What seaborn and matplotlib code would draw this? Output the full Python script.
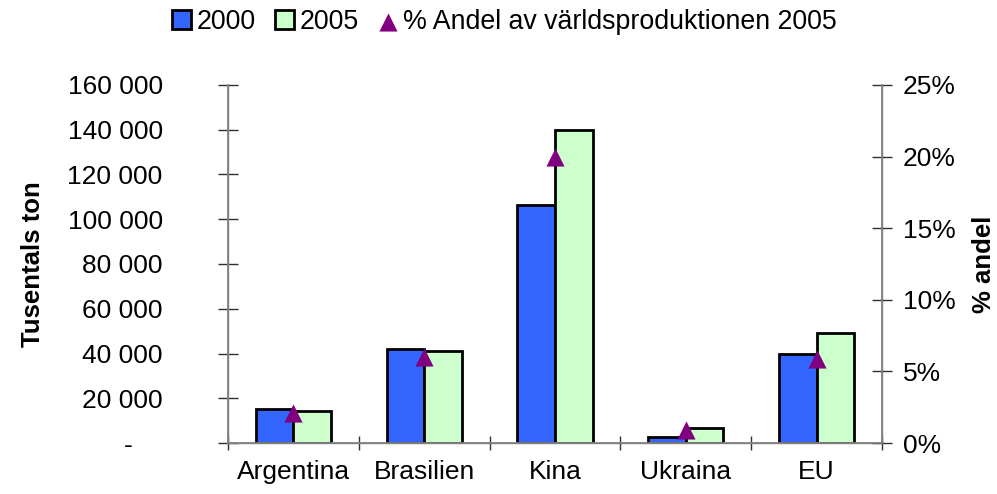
import numpy as np
import pandas as pd
import matplotlib
matplotlib.use("Agg")
import matplotlib.pyplot as plt
import seaborn as sns
from matplotlib.ticker import FuncFormatter, MultipleLocator

categories = ["Argentina", "Brasilien", "Kina", "Ukraina", "EU"]
prod_2000 = [15200, 42000, 106300, 2700, 39800]
prod_2005 = [14400, 41200, 139800, 6800, 49300]
share_2005 = [2.1, 6.0, 20.0, 0.9, 5.9]
series_labels = ["2000", "2005"]
share_label = "% Andel av världsproduktionen 2005"

sns.set_theme(style="white")
plt.rcParams["font.family"] = ["Liberation Sans", "DejaVu Sans"]
for k in ["text.color", "axes.labelcolor", "xtick.labelcolor", "ytick.labelcolor"]:
    plt.rcParams[k] = "black"

FS = 19

df = pd.DataFrame({
    "land": categories * 2,
    "år": [series_labels[0]] * len(categories) + [series_labels[1]] * len(categories),
    "ton": prod_2000 + prod_2005,
})

fig = plt.figure(figsize=(9.97, 4.94), dpi=100)
ax = fig.add_axes([0.2287, 0.1032, 0.656, 0.7248])

sns.barplot(data=df, x="land", y="ton", hue="år", order=categories,
            hue_order=series_labels, palette=["#3366FF", "#CCFFCC"],
            width=0.575, gap=0, edgecolor="black", linewidth=2,
            saturation=1, ax=ax, legend=True)

ax.set_xlim(-0.5, len(categories) - 0.5)
ax.set_ylim(0, 160000)
ax.yaxis.set_major_locator(MultipleLocator(20000))
ax.yaxis.set_major_formatter(FuncFormatter(
    lambda v, p: "-    " if v == 0 else f"{int(v):,}".replace(",", " ")))
ax.set_xlabel("")
ax.set_ylabel("Tusentals ton", fontsize=18.5, fontweight="bold", labelpad=16)

ax.set_xticks(np.arange(len(categories)))
ax.set_xticklabels(categories)
ax.set_xticks(np.arange(len(categories) + 1) - 0.5, minor=True)
ax.tick_params(axis="x", which="major", length=0, labelsize=FS, pad=12)
ax.tick_params(axis="x", which="minor", direction="inout", length=10,
               width=1, color="#303030", bottom=True)
ax.tick_params(axis="y", which="major", direction="inout", length=14,
               width=1, color="#303030", labelsize=FS, pad=40, left=True)

ax.spines["top"].set_visible(False)
for s in ["left", "right", "bottom"]:
    ax.spines[s].set_color("#808080")
    ax.spines[s].set_linewidth(1)

ax2 = ax.twinx()
ax2.scatter(np.arange(len(categories)), share_2005, marker="^", s=170,
            color="#800080", zorder=5, label=share_label, linewidths=0)
ax2.set_ylim(0, 25)
ax2.yaxis.set_major_locator(MultipleLocator(5))
ax2.yaxis.set_major_formatter(FuncFormatter(lambda v, p: f"{int(v)}%"))
ax2.tick_params(axis="y", direction="inout", length=14, width=1,
                color="#303030", labelsize=FS, pad=8, right=True)
ax2.set_ylabel("% andel", fontsize=18.5, fontweight="bold", labelpad=12)
ax2.spines["top"].set_visible(False)
for s in ["left", "right", "bottom"]:
    ax2.spines[s].set_color("#808080")

h1, l1 = ax.get_legend_handles_labels()
ax.get_legend().remove()
h2, l2 = ax2.get_legend_handles_labels()
fig.legend(h1 + h2, l1 + l2, loc="center", bbox_to_anchor=(0.506, 0.955),
           ncol=3, frameon=False, fontsize=19.3, handlelength=0.7,
           handleheight=0.7, handletextpad=0.2, columnspacing=0.75)

fig.savefig("out.png", dpi=100)
